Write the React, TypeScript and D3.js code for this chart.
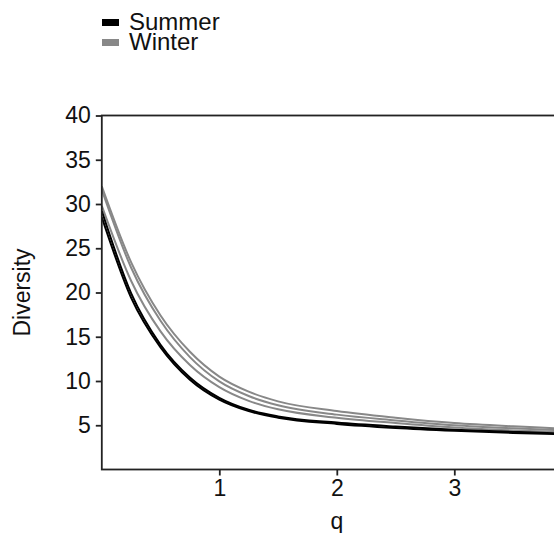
import { useEffect, useRef } from 'react'
import * as d3 from 'd3'

const qValues = [0, 0.25, 0.5, 0.75, 1, 1.25, 1.5, 2, 2.5, 3, 3.5, 4, 4.5]

const winterA = [32.0, 23.4, 17.4, 13.3, 10.5, 8.8, 7.7, 6.6, 5.85, 5.25, 4.88, 4.6, 4.45]
const winterB = [31.6, 22.8, 16.8, 12.7, 9.95, 8.3, 7.25, 6.2, 5.55, 5.0, 4.65, 4.38, 4.22]
const winterC = [29.8, 21.3, 15.6, 11.8, 9.3, 7.75, 6.8, 5.85, 5.25, 4.75, 4.42, 4.18, 4.03]
const summerA = [29.2, 19.9, 14.1, 10.4, 8.1, 6.75, 6.0, 5.3, 4.85, 4.5, 4.25, 4.05, 3.95]
const summerB = [28.5, 19.4, 13.8, 10.15, 7.9, 6.6, 5.85, 5.15, 4.7, 4.38, 4.13, 3.95, 3.85]

const yTicks = [5, 10, 15, 20, 25, 30, 35, 40]
const xTicks = [1, 2, 3]

const legendItems = [
  { label: 'Summer', color: '#000000' },
  { label: 'Winter', color: '#888888' },
]

const series = [
  { values: winterA, color: '#888888' },
  { values: winterB, color: '#888888' },
  { values: winterC, color: '#888888' },
  { values: summerA, color: '#000000' },
  { values: summerB, color: '#000000' },
]

const W = 554
const H = 533
const margin = { top: 115.5, left: 101.8, bottom: 63.5 }
const plotRight = 571.8
const FONT = '"Liberation Sans", Arial, sans-serif'

export default function App() {
  const ref = useRef<SVGSVGElement>(null)

  useEffect(() => {
    if (!ref.current) return
    const svg = d3.select(ref.current)
    svg.selectAll('*').remove()

    const x = d3.scaleLinear().domain([0, 4]).range([margin.left, plotRight])
    const y = d3.scaleLinear().domain([0, 40]).range([H - margin.bottom, margin.top])

    const clipId = 'plot-clip'
    svg.append('defs').append('clipPath').attr('id', clipId)
      .append('rect')
      .attr('x', margin.left).attr('y', margin.top)
      .attr('width', plotRight - margin.left).attr('height', y(0) - margin.top)

    const line = d3.line<number>()
      .x((_, i) => x(qValues[i]))
      .y((d) => y(d))
      .curve(d3.curveMonotoneX)

    const lines = svg.append('g').attr('clip-path', `url(#${clipId})`)
    series.forEach((s) => {
      lines.append('path')
        .attr('d', line(s.values) ?? '')
        .attr('fill', 'none')
        .attr('stroke', s.color)
        .attr('stroke-width', 2)
    })

    // frame
    svg.append('rect')
      .attr('x', margin.left).attr('y', margin.top)
      .attr('width', plotRight - margin.left).attr('height', y(0) - margin.top)
      .attr('fill', 'none').attr('stroke', '#222').attr('stroke-width', 1.8)

    const yAxis = svg.append('g')
      .attr('transform', `translate(${margin.left},0)`)
      .call(d3.axisLeft(y).tickValues(yTicks).tickSize(6).tickPadding(5))
    const xAxis = svg.append('g')
      .attr('transform', `translate(0,${y(0)})`)
      .call(d3.axisBottom(x).tickValues(xTicks).tickFormat(d3.format('d')).tickSize(6).tickPadding(4))

    ;[yAxis, xAxis].forEach((g) => {
      g.select('.domain').remove()
      g.selectAll('.tick line').attr('stroke', '#222').attr('stroke-width', 1.8)
      g.selectAll('.tick text')
        .attr('font-family', FONT).attr('font-size', 23).attr('fill', '#111')
    })

    svg.append('text')
      .attr('transform', `translate(30,${(margin.top + y(0)) / 2}) rotate(-90)`)
      .attr('text-anchor', 'middle')
      .attr('font-family', FONT).attr('font-size', 23).attr('fill', '#111')
      .text('Diversity')

    svg.append('text')
      .attr('x', x(2)).attr('y', 529)
      .attr('text-anchor', 'middle')
      .attr('font-family', FONT).attr('font-size', 23).attr('fill', '#111')
      .text('q')

    const legend = svg.append('g')
    legendItems.forEach((item, i) => {
      legend.append('rect')
        .attr('x', 102).attr('y', 19 + i * 20)
        .attr('width', 17).attr('height', 7)
        .attr('fill', item.color)
      legend.append('text')
        .attr('x', 129).attr('y', 29.5 + i * 20)
        .attr('font-family', FONT).attr('font-size', 24).attr('fill', '#111')
        .text(item.label)
    })
  }, [])

  return (
    <svg
      ref={ref}
      width={W}
      height={H}
      style={{ position: 'absolute', left: 0, top: 0, background: '#fff', display: 'block' }}
    />
  )
}
